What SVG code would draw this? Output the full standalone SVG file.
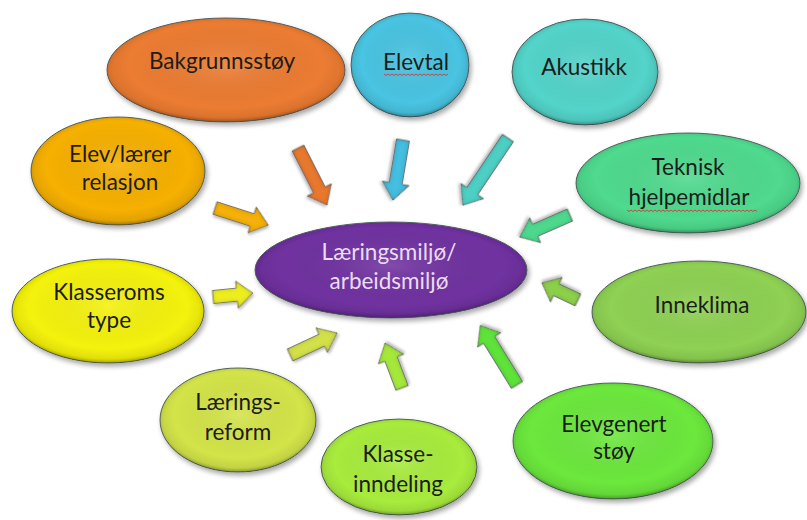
<svg xmlns="http://www.w3.org/2000/svg" width="807" height="520" viewBox="0 0 807 520">
<style>
  .node ellipse.base { stroke: #5b6b6b; stroke-width: 1; filter: url(#bevel); }
  .shade { fill: url(#edge); pointer-events: none; }
  .lbl { font-family: Lato, "Open Sans", "Liberation Sans", sans-serif; font-size: 22.5px; fill: #1c1c1c; text-anchor: middle; }
  .lbl-c { fill: #eadcf2; }
  .arr polygon { stroke: #6b6b6b; stroke-width: 0.8; stroke-linejoin: miter; filter: url(#bevel2); }
  .spell { fill: none; stroke: #d03a3a; stroke-width: 0.9; }
</style>
<defs>
  <radialGradient id="edge" cx="0.5" cy="0.45" r="0.55">
    <stop offset="0" stop-color="#fff" stop-opacity="0.12"/>
    <stop offset="0.75" stop-color="#000" stop-opacity="0"/>
    <stop offset="0.93" stop-color="#000" stop-opacity="0.08"/>
    <stop offset="1" stop-color="#000" stop-opacity="0.28"/>
  </radialGradient>
  <filter id="bevel" x="-10%" y="-10%" width="125%" height="130%">
    <feGaussianBlur in="SourceAlpha" stdDeviation="2.5" result="blur"/>
    <feOffset in="blur" dx="2" dy="3" result="off"/>
    <feComponentTransfer in="off" result="shadow"><feFuncA type="linear" slope="0.35"/></feComponentTransfer>
    <feGaussianBlur in="SourceAlpha" stdDeviation="2" result="ib"/>
    <feComposite in="SourceAlpha" in2="ib" operator="arithmetic" k2="1" k3="-1" result="edgeA"/>
    <feFlood flood-color="#000" flood-opacity="0.45"/>
    <feComposite in2="edgeA" operator="in" result="edgeS"/>
    <feMerge><feMergeNode in="shadow"/><feMergeNode in="SourceGraphic"/><feMergeNode in="edgeS"/></feMerge>
  </filter>
  <filter id="bevel2" x="-30%" y="-30%" width="160%" height="160%">
    <feGaussianBlur in="SourceAlpha" stdDeviation="1.5" result="blur"/>
    <feOffset in="blur" dx="1" dy="2" result="off"/>
    <feComponentTransfer in="off" result="shadow"><feFuncA type="linear" slope="0.3"/></feComponentTransfer>
    <feGaussianBlur in="SourceAlpha" stdDeviation="2" result="ib"/>
    <feComposite in="SourceAlpha" in2="ib" operator="arithmetic" k2="1" k3="-1" result="edgeA"/>
    <feFlood flood-color="#000" flood-opacity="0.5"/>
    <feComposite in2="edgeA" operator="in" result="edgeS"/>
    <feMerge><feMergeNode in="shadow"/><feMergeNode in="SourceGraphic"/><feMergeNode in="edgeS"/></feMerge>
  </filter>
</defs>
<rect width="807" height="520" fill="#ffffff"/>

<g id="connectors" class="arr">
  <polygon fill="#E8782F" points="0,-6.5 47,-6.5 47,-13.5 64,0 47,13.5 47,6.5 0,6.5" transform="translate(298,148) rotate(63)"/>
  <polygon fill="#45BEE0" points="0,-6.5 44,-6.5 44,-13.5 61,0 44,13.5 44,6.5 0,6.5" transform="translate(403,140) rotate(99.5)"/>
  <polygon fill="#4ECFC4" points="0,-6.5 64,-6.5 64,-13.5 81,0 64,13.5 64,6.5 0,6.5" transform="translate(508,138) rotate(123.9)"/>
  <polygon fill="#4ED88E" points="0,-6.5 38,-6.5 38,-13.5 55,0 38,13.5 38,6.5 0,6.5" transform="translate(570,215) rotate(156.3)"/>
  <polygon fill="#8CCF4A" points="0,-6.5 24,-6.5 24,-13.5 40,0 24,13.5 24,6.5 0,6.5" transform="translate(578,300) rotate(205.3)"/>
  <polygon fill="#5FE33A" points="0,-6.5 53,-6.5 53,-13.5 70,0 53,13.5 53,6.5 0,6.5" transform="translate(517,385) rotate(238.3)"/>
  <polygon fill="#A5E83A" points="0,-6.5 31,-6.5 31,-13.5 48,0 31,13.5 31,6.5 0,6.5" transform="translate(402,388) rotate(249.3)"/>
  <polygon fill="#D2E04A" points="0,-6.5 35,-6.5 35,-13.5 52,0 35,13.5 35,6.5 0,6.5" transform="translate(290,355) rotate(-25.1)"/>
  <polygon fill="#EDED20" points="0,-6.5 24,-6.5 24,-13.5 40,0 24,13.5 24,6.5 0,6.5" transform="translate(213,297) rotate(-5.7)"/>
  <polygon fill="#F4B010" points="0,-6.5 39,-6.5 39,-13.5 56,0 39,13.5 39,6.5 0,6.5" transform="translate(215,208) rotate(17.8)"/>
</g>

<g id="n-bakgrunnsstoy" class="node">
  <ellipse class="base" cx="226" cy="70" rx="119" ry="52" fill="#EC7C30"/>
  <ellipse class="shade" cx="226" cy="70" rx="119" ry="52"/>
  <text class="lbl" x="222" y="69">Bakgrunnsstøy</text>
</g>
<g id="n-elevtal" class="node">
  <ellipse class="base" cx="410" cy="65" rx="59" ry="52" fill="#4AC4E2"/>
  <ellipse class="shade" cx="410" cy="65" rx="59" ry="52"/>
  <text class="lbl" x="416" y="70">Elevtal</text>
  <path class="spell" d="M384,74 l2,1.5 l2,-1.5 l2,1.5 l2,-1.5 l2,1.5 l2,-1.5 l2,1.5 l2,-1.5 l2,1.5 l2,-1.5 l2,1.5 l2,-1.5 l2,1.5 l2,-1.5 l2,1.5 l2,-1.5 l2,1.5 l2,-1.5 l2,1.5 l2,-1.5 l2,1.5 l2,-1.5 l2,1.5 l2,-1.5 l2,1.5 l2,-1.5 l2,1.5 l2,-1.5 l2,1.5 l2,-1.5 l2,1.5 l2,-1.5"/>
</g>
<g id="n-akustikk" class="node">
  <ellipse class="base" cx="585" cy="72" rx="73" ry="53" fill="#52D4CA"/>
  <ellipse class="shade" cx="585" cy="72" rx="73" ry="53"/>
  <text class="lbl" x="584" y="75">Akustikk</text>
</g>
<g id="n-teknisk" class="node">
  <ellipse class="base" cx="688" cy="183" rx="112" ry="50" fill="#50DA8E"/>
  <ellipse class="shade" cx="688" cy="183" rx="112" ry="50"/>
  <text class="lbl" x="688" y="175">Teknisk</text>
  <text class="lbl" x="689" y="205">hjelpemidlar</text>
  <path class="spell" d="M627,210 l2,1.5 l2,-1.5 l2,1.5 l2,-1.5 l2,1.5 l2,-1.5 l2,1.5 l2,-1.5 l2,1.5 l2,-1.5 l2,1.5 l2,-1.5 l2,1.5 l2,-1.5 l2,1.5 l2,-1.5 l2,1.5 l2,-1.5 l2,1.5 l2,-1.5 l2,1.5 l2,-1.5 l2,1.5 l2,-1.5 l2,1.5 l2,-1.5 l2,1.5 l2,-1.5 l2,1.5 l2,-1.5 l2,1.5 l2,-1.5 l2,1.5 l2,-1.5 l2,1.5 l2,-1.5 l2,1.5 l2,-1.5 l2,1.5 l2,-1.5 l2,1.5 l2,-1.5 l2,1.5 l2,-1.5 l2,1.5 l2,-1.5 l2,1.5 l2,-1.5 l2,1.5 l2,-1.5 l2,1.5 l2,-1.5 l2,1.5 l2,-1.5 l2,1.5 l2,-1.5 l2,1.5 l2,-1.5 l2,1.5 l2,-1.5 l2,1.5 l2,-1.5 l2,1.5 l2,-1.5 l2,1.5"/>
</g>
<g id="n-elevlaerer" class="node">
  <ellipse class="base" cx="118" cy="171" rx="87" ry="54" fill="#F6B000"/>
  <ellipse class="shade" cx="118" cy="171" rx="87" ry="54"/>
  <text class="lbl" x="120" y="162">Elev/lærer</text>
  <text class="lbl" x="120" y="190">relasjon</text>
</g>
<g id="n-klasseroms" class="node">
  <ellipse class="base" cx="108" cy="311" rx="96" ry="52" fill="#F4F20A"/>
  <ellipse class="shade" cx="108" cy="311" rx="96" ry="52"/>
  <text class="lbl" x="109" y="300">Klasseroms</text>
  <text class="lbl" x="109" y="328">type</text>
</g>
<g id="n-laeringsreform" class="node">
  <ellipse class="base" cx="238" cy="420" rx="78" ry="52" fill="#D3E44A"/>
  <ellipse class="shade" cx="238" cy="420" rx="78" ry="52"/>
  <text class="lbl" x="238" y="410">Lærings-</text>
  <text class="lbl" x="238" y="440">reform</text>
</g>
<g id="n-klasseinndeling" class="node">
  <ellipse class="base" cx="399" cy="467" rx="78" ry="48" fill="#A8EC3E"/>
  <ellipse class="shade" cx="399" cy="467" rx="78" ry="48"/>
  <text class="lbl" x="398" y="462">Klasse-</text>
  <text class="lbl" x="398" y="492">inndeling</text>
</g>
<g id="n-elevgenert" class="node">
  <ellipse class="base" cx="613" cy="441" rx="100" ry="58" fill="#6CE83C"/>
  <ellipse class="shade" cx="613" cy="441" rx="100" ry="58"/>
  <text class="lbl" x="614" y="432">Elevgenert</text>
  <text class="lbl" x="614" y="459">støy</text>
</g>
<g id="n-inneklima" class="node">
  <ellipse class="base" cx="699" cy="312" rx="107" ry="51" fill="#8ED152"/>
  <ellipse class="shade" cx="699" cy="312" rx="107" ry="51"/>
  <text class="lbl" x="702" y="313">Inneklima</text>
</g>
<g id="n-center" class="node">
  <ellipse class="base" cx="391" cy="270" rx="136" ry="48" fill="#7030A0"/>
  <ellipse class="shade" cx="391" cy="270" rx="136" ry="48"/>
  <text class="lbl lbl-c" x="389" y="260">Læringsmiljø/</text>
  <text class="lbl lbl-c" x="389" y="289">arbeidsmiljø</text>
</g>
</svg>
